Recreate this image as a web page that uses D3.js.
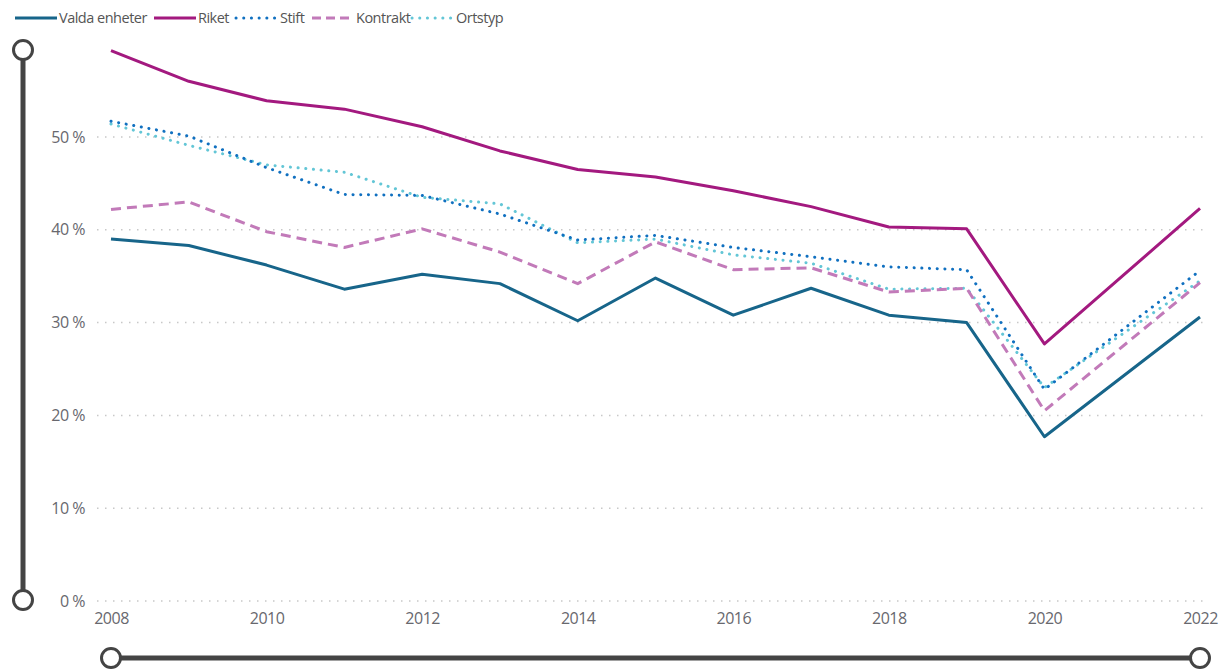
<!DOCTYPE html>
<html>
<head>
<meta charset="utf-8">
<script src="https://cdn.jsdelivr.net/npm/d3@7"></script>
<style>
  body { margin: 0; background: #fff; }
  svg { display: block; font-family: "Open Sans", sans-serif; }
</style>
</head>
<body>
<div id="chart"></div>
<script>
// years with data (no 2021 row, lines go straight from 2020 to 2022)
const years = [2008, 2009, 2010, 2011, 2012, 2013, 2014, 2015, 2016, 2017, 2018, 2019, 2020, 2022];
const yearTicks = [2008, 2010, 2012, 2014, 2016, 2018, 2020, 2022];
const pctTicks = [0, 10, 20, 30, 40, 50];

const valdaEnheter = [39.0, 38.3, 36.2, 33.6, 35.2, 34.2, 30.2, 34.8, 30.8, 33.7, 30.8, 30.0, 17.7, 30.6];
const riket =        [59.3, 56.0, 53.9, 53.0, 51.1, 48.5, 46.5, 45.7, 44.2, 42.5, 40.3, 40.1, 27.7, 42.3];
const stift =        [51.7, 50.1, 46.7, 43.8, 43.7, 41.7, 38.9, 39.4, 38.1, 37.1, 36.0, 35.7, 22.8, 35.6];
const kontrakt =     [42.2, 43.0, 39.8, 38.1, 40.1, 37.6, 34.2, 38.7, 35.7, 35.9, 33.3, 33.7, 20.5, 34.3];
const ortstyp =      [51.4, 49.1, 47.0, 46.2, 43.5, 42.8, 38.6, 39.0, 37.3, 36.4, 33.6, 33.7, 23.0, 34.5];

const series = [
  { name: "Valda enheter", values: valdaEnheter, color: "#17658a", dash: null },
  { name: "Riket", values: riket, color: "#a3197f", dash: null },
  { name: "Stift", values: stift, color: "#1070c0", dash: "0.1 7.6", cap: "round" },
  { name: "Kontrakt", values: kontrakt, color: "#c27ab9", dash: "10 6" },
  { name: "Ortstyp", values: ortstyp, color: "#63c6d6", dash: "0.1 7.6", cap: "round" },
];

const width = 1226;
const height = 672;
const marginLeft = 111;
const marginRight = 26;
const gridLeft = 97;
const gridRight = 1205;

const x = d3.scaleLinear()
  .domain([2008, 2022])
  .range([marginLeft, width - marginRight]);

const y = d3.scaleLinear()
  .domain([0, 50])
  .range([601, 137]);

const svg = d3.select("#chart")
  .append("svg")
  .attr("width", width)
  .attr("height", height)
  .attr("viewBox", [0, 0, width, height]);

// gridlines
svg.append("g")
  .selectAll("line")
  .data(pctTicks)
  .join("line")
  .attr("x1", gridLeft)
  .attr("x2", gridRight)
  .attr("y1", d => y(d))
  .attr("y2", d => y(d))
  .attr("stroke", "#c8c8c8")
  .attr("stroke-width", 1.5)
  .attr("stroke-dasharray", "1.5 6.5");

// y axis labels
const yAxis = svg.append("g")
  .attr("transform", `translate(${gridLeft - 12},0)`)
  .call(d3.axisLeft(y).tickValues(pctTicks).tickFormat(d => d + " %").tickSize(0).tickPadding(0));
yAxis.select(".domain").remove();
yAxis.selectAll("text")
  .attr("fill", "#68686e")
  .attr("font-size", 16)
  .attr("letter-spacing", -0.5)
  .attr("font-family", "Open Sans, sans-serif");

// x axis labels
const xAxis = svg.append("g")
  .attr("transform", `translate(0,${611})`)
  .call(d3.axisBottom(x).tickValues(yearTicks).tickFormat(d3.format("d")).tickSize(0).tickPadding(2));
xAxis.select(".domain").remove();
xAxis.selectAll("text")
  .attr("fill", "#68686e")
  .attr("font-size", 16)
  .attr("letter-spacing", -0.5)
  .attr("font-family", "Open Sans, sans-serif");

// lines
const line = d3.line()
  .x((d, i) => x(years[i]))
  .y(d => y(d));

svg.append("g")
  .selectAll("path")
  .data(series.slice().reverse())
  .join("path")
  .attr("fill", "none")
  .attr("stroke", d => d.color)
  .attr("stroke-width", 3)
  .attr("stroke-linejoin", "round")
  .attr("stroke-linecap", d => d.cap || "butt")
  .attr("stroke-dasharray", d => d.dash)
  .attr("d", d => line(d.values));

// legend
const legendX = [15, 154, 236, 312, 412];
const legend = svg.append("g")
  .selectAll("g")
  .data(series)
  .join("g")
  .attr("transform", (d, i) => `translate(${legendX[i]},18)`);

legend.append("line")
  .attr("x1", 0)
  .attr("x2", 42)
  .attr("stroke", d => d.color)
  .attr("stroke-width", 3)
  .attr("stroke-linecap", d => d.cap || "butt")
  .attr("stroke-dasharray", d => d.dash === "10 6" ? "9 5" : d.dash);

legend.append("text")
  .attr("x", 44)
  .attr("dy", "0.35em")
  .attr("fill", "#555")
  .attr("font-size", 14.5)
  .attr("letter-spacing", -0.5)
  .text(d => d.name);

// slicer-like range handles
const handle = "#444";
svg.append("line")
  .attr("x1", 23).attr("x2", 23)
  .attr("y1", 50).attr("y2", 600)
  .attr("stroke", handle).attr("stroke-width", 5);
svg.append("line")
  .attr("x1", x(2008)).attr("x2", x(2022))
  .attr("y1", 658).attr("y2", 658)
  .attr("stroke", handle).attr("stroke-width", 5);

const knobs = [[23, 50], [23, 600], [x(2008), 658], [x(2022), 658]];
svg.append("g")
  .selectAll("circle")
  .data(knobs)
  .join("circle")
  .attr("cx", d => d[0])
  .attr("cy", d => d[1])
  .attr("r", 9.5)
  .attr("fill", "#fff")
  .attr("stroke", handle)
  .attr("stroke-width", 3);
</script>
</body>
</html>
